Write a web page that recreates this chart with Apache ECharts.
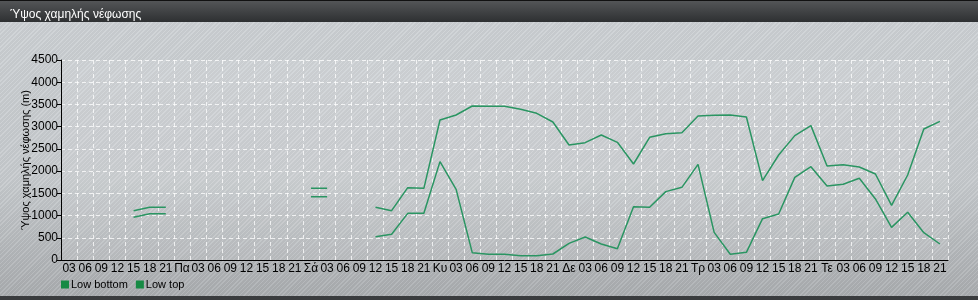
<!DOCTYPE html>
<html><head><meta charset="utf-8">
<script src="https://cdn.jsdelivr.net/npm/echarts@6/dist/echarts.min.js"></script>
<style>
html,body{margin:0;padding:0;}
#wrap{position:relative;width:978px;height:300px;overflow:hidden;
 background:
  repeating-linear-gradient(135deg, rgba(255,255,255,0.10) 0px, rgba(255,255,255,0.10) 1px, rgba(0,0,0,0.03) 1px, rgba(0,0,0,0.03) 3px),
  linear-gradient(180deg,#cdd1d5 0%,#c6cacd 60%,#a9acaf 100%);}
#chart{position:absolute;left:0;top:0;width:978px;height:300px;}
</style></head>
<body><div id="wrap"><div id="chart"></div></div>
<script>
const categories = ['03','06','09','12','15','18','21','Πα','03','06','09','12','15','18','21','Σά','03','06','09','12','15','18','21','Κυ','03','06','09','12','15','18','21','Δε','03','06','09','12','15','18','21','Τρ','03','06','09','12','15','18','21','Τε','03','06','09','12','15','18','21'];
const lowBottom = [null,null,null,null,960,1040,1040,null,null,null,null,null,null,null,null,1425,1425,null,null,525,578,1050,1050,2213,1590,165,128,128,98,98,135,375,518,360,255,1200,1185,1538,1635,2153,622,128,173,930,1035,1860,2100,1665,1703,1838,1373,735,1073,615,360];
const lowTop = [null,null,null,null,1110,1185,1185,null,null,null,null,null,null,null,null,1613,1613,null,null,1185,1110,1628,1613,3150,3263,3465,3458,3458,3390,3300,3105,2588,2640,2813,2648,2160,2760,2843,2865,3240,3255,3263,3218,1785,2363,2798,3023,2115,2145,2093,1935,1230,1913,2948,3120];
const yTicks = {min:0, max:4500, interval:500};
const titleText = 'Ύψος χαμηλής νέφωσης';
const yName = 'Ύψος χαμηλής νέφωσης (m)';

const color = '#2a9562';
const font = 'Liberation Sans, Arial, sans-serif';
const chart = echarts.init(document.getElementById('chart'), null, {renderer:'canvas'});
chart.setOption({
  backgroundColor: 'transparent',
  animation: false,
  graphic: [
    {type:'rect', left:0, top:0, shape:{width:978,height:22}, z:0,
     style:{fill:new echarts.graphic.LinearGradient(0,0,0,1,[{offset:0,color:'#555759'},{offset:1,color:'#2e3032'}])}},
    {type:'rect', left:0, top:0, shape:{width:978,height:1}, style:{fill:'#111'}},
    {type:'rect', left:0, top:296, shape:{width:978,height:4}, style:{fill:'#3a3c3e'}},
    {type:'rect', left:61, top:60, shape:{width:887,height:200}, z:0, style:{fill:'rgba(255,255,255,0.10)'}}
  ],
  title: {text:titleText, left:5, top:4, textStyle:{color:'#ffffff', fontSize:12, fontWeight:'normal', fontFamily:font}},
  legend: {left:56, top:274, itemWidth:8, itemHeight:8, itemGap:8, icon:'rect',
    textStyle:{color:'#000', fontSize:11, fontFamily:font, padding:[0,0,0,-3]},
    data:[{name:'Low bottom', itemStyle:{color:'#168a44'}},{name:'Low top', itemStyle:{color:'#168a44'}}]},
  grid: {left:61, right:30, top:60, bottom:40, containLabel:false},
  xAxis: {type:'category', data:categories, boundaryGap:true,
    axisLine:{lineStyle:{color:'#000', width:1}},
    axisTick:{alignWithLabel:true, interval:0, length:4, lineStyle:{color:'#000'}},
    axisLabel:{interval:0, color:'#000', fontSize:12, fontFamily:font, margin:3},
    splitLine:{show:true, interval:0, lineStyle:{color:'rgba(255,255,255,0.75)', type:[4,3], width:1}}},
  yAxis: {type:'value', min:yTicks.min, max:yTicks.max, interval:yTicks.interval,
    name:yName, nameLocation:'middle', nameGap:30, nameRotate:90, nameMoveOverlap:false,
    nameTextStyle:{color:'#000', fontSize:11, fontFamily:font},
    axisLine:{show:true, lineStyle:{color:'#000'}},
    axisTick:{show:true, length:4, lineStyle:{color:'#000'}},
    axisLabel:{color:'#000', fontSize:12, fontFamily:font, margin:3, formatter:function(v){return String(v);}},
    splitLine:{show:true, lineStyle:{color:'rgba(255,255,255,0.75)', type:[4,3], width:1}}},
  series: [
    {name:'Low bottom', type:'line', data:lowBottom, showSymbol:false, symbol:'none', connectNulls:false,
     lineStyle:{color:color, width:1.5}, itemStyle:{color:color}},
    {name:'Low top', type:'line', data:lowTop, showSymbol:false, symbol:'none', connectNulls:false,
     lineStyle:{color:color, width:1.5}, itemStyle:{color:color}}
  ]
});
</script></body></html>
